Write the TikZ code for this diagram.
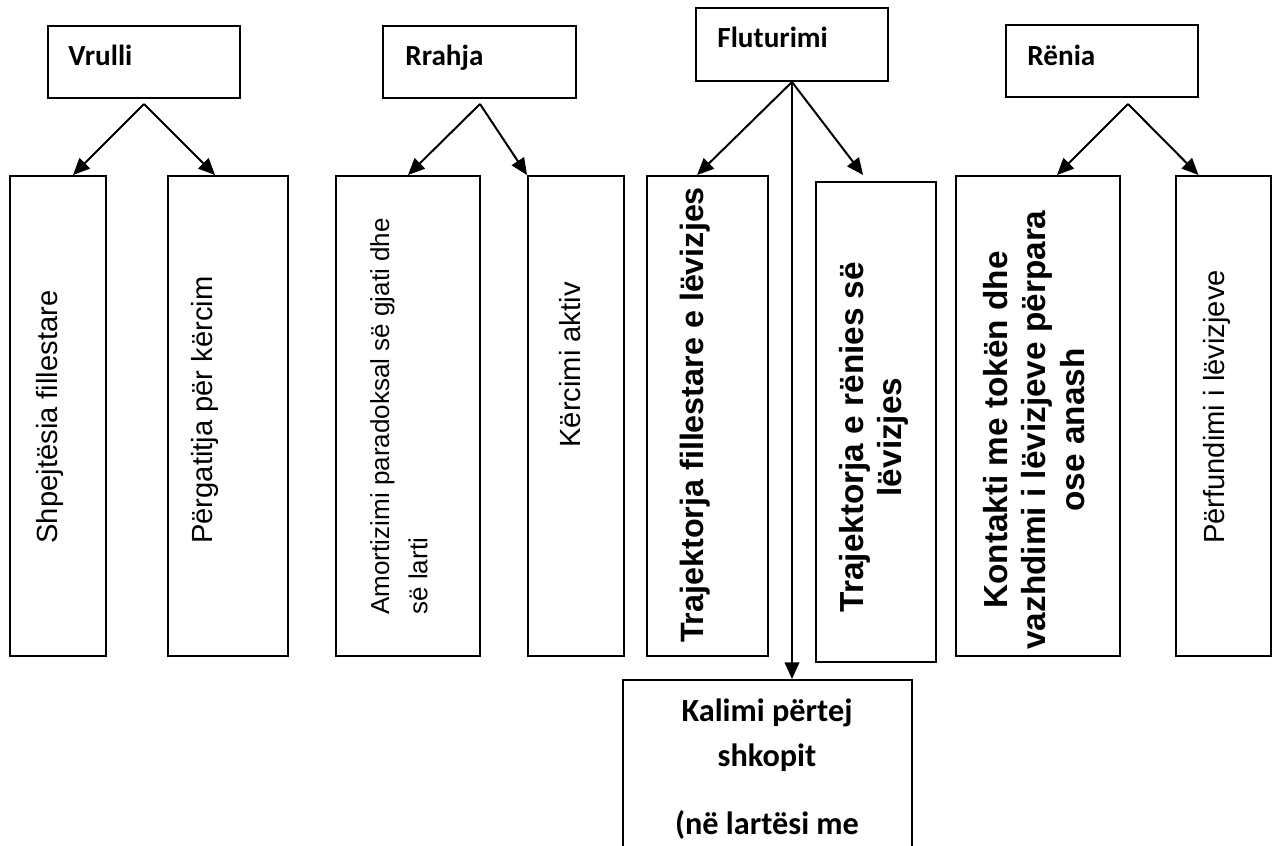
\documentclass[tikz,border=0pt]{standalone}
\usepackage{fontspec}
\setmainfont{Liberation Sans}
\newfontfamily\calib{Carlito}
\usetikzlibrary{fit,arrows.meta}
\begin{document}
\begin{tikzpicture}[x=0.48pt,y=-0.48pt,
  box/.style={draw,line width=0.95pt,inner sep=0pt},
  arr/.style={line width=0.95pt,-{Triangle[length=8pt,width=7pt]}},
  ttl/.style={font=\calib\bfseries\fontsize{14}{17}\selectfont,anchor=base west,inner sep=0pt},
  vt/.style={rotate=90,font=\fontsize{14}{18.4}\selectfont,align=center,inner sep=0pt},
  vtb/.style={rotate=90,font=\bfseries\fontsize{16}{18.4}\selectfont,align=center,inner sep=0pt}
]
\clip (0,0) rectangle (1275,846);
\fill[white] (0,0) rectangle (1275,846);
% top boxes
\node[box,fit={(48,26) (240,98)}] (tV) {};
\node[box,fit={(383,26) (576,98)}] (tR) {};
\node[box,fit={(696,8) (888,81)}] (tF) {};
\node[box,fit={(1006,25) (1198,97)}] (tE) {};
\node[ttl] (lV) at (68,65) {Vrulli};
\node[ttl] (lR) at (405,65) {Rrahja};
\node[ttl] (lF) at (717,47) {Fluturimi};
\node[ttl] (lE) at (1027,65) {Rënia};
% lower boxes
\node[box,fit={(10,176) (106,656)}] (b1) {};
\node[box,fit={(168,176) (288,656)}] (b2) {};
\node[box,fit={(336,176) (480,656)}] (b3) {};
\node[box,fit={(528,176) (624,656)}] (b4) {};
\node[box,fit={(647,176) (768,656)}] (b5) {};
\node[box,fit={(816,182) (936,662)}] (b6) {};
\node[box,fit={(956,176) (1120,656)}] (b7) {};
\node[box,fit={(1176,176) (1271,656)}] (b8) {};
\node[box,fit={(623,680) (912,900)}] (bK) {};
% texts
\node[vt] (x1) at (50,417) {Shpejtësia fillestare};
\node[vt] (x2) at (205,410) {Përgatitja për kërcim};
\node[vt,font=\fontsize{12.5}{18.4}\selectfont,align=left,anchor=west] (x3) at (399,615) {Amortizimi paradoksal së gjati dhe\\së larti};
\node[vt] (x4) at (570,365) {Kërcimi aktiv};
\node[vtb,font=\bfseries\fontsize{15.5}{18.4}\selectfont] (x5) at (695,415) {Trajektorja fillestare e lëvizjes};
\node[vtb] (x6) at (874,437) {Trajektorja e rënies së\\lëvizjes};
\node[vtb] (x7) at (1034,430) {Kontakti me tokën dhe\\vazhdimi i lëvizjeve përpara\\ose anash};
\node[vt] (x8) at (1217,407) {Përfundimi i lëvizjeve};
\node[font=\calib\bfseries\fontsize{15.5}{21.6}\selectfont,align=center,anchor=north,inner sep=0pt] (xK) at (767,698) {Kalimi përtej\\shkopit\\[11pt](në lartësi me};
% connectors
\coordinate (aV) at (144,104);
\coordinate (aR) at (480,104);
\coordinate (aE) at (1128,104);
\draw[arr] (aV) -- ([xshift=7.2pt]b1.north);
\draw[arr] (aV) -- ([xshift=-6.2pt]b2.north);
\draw[arr] (aR) -- (b3.north);
\draw[arr] (aR) -- (b4.north west);
\draw[arr] (tF.south) -- ([xshift=-5pt]b5.north);
\draw[arr] (tF.south) -- ([xshift=-6.2pt,yshift=2.9pt]b6.north);
\draw[arr] (tF.south) -- (tF.south |- bK.north);
\draw[arr] (aE) -- ([xshift=9.1pt]b7.north);
\draw[arr] (aE) -- ([xshift=-12pt]b8.north);
\end{tikzpicture}
\end{document}
